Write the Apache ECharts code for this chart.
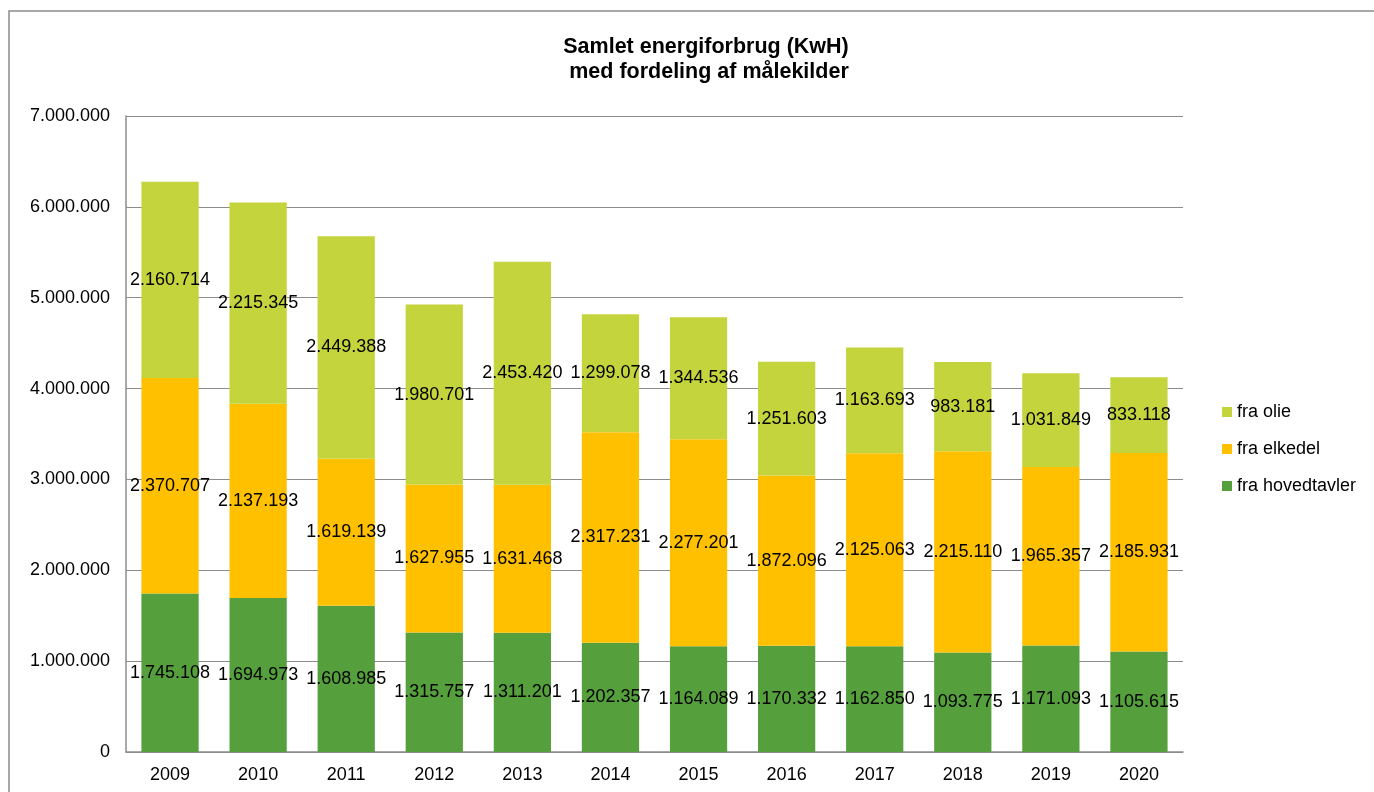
<!DOCTYPE html>
<html>
<head>
<meta charset="utf-8">
<script src="https://cdn.jsdelivr.net/npm/echarts@6/dist/echarts.min.js"></script>
<style>
  html, body { margin: 0; padding: 0; background: #fff; }
  #chart { width: 1374px; height: 792px; }
</style>
</head>
<body>
<div id="chart"></div>
<script>
var years = ['2009','2010','2011','2012','2013','2014','2015','2016','2017','2018','2019','2020'];
var hovedtavler = [1745108,1694973,1608985,1315757,1311201,1202357,1164089,1170332,1162850,1093775,1171093,1105615];
var elkedel = [2370707,2137193,1619139,1627955,1631468,2317231,2277201,1872096,2125063,2215110,1965357,2185931];
var olie = [2160714,2215345,2449388,1980701,2453420,1299078,1344536,1251603,1163693,983181,1031849,833118];

// tal med punktum som tusindtalsseparator
function fmt(v) {
    return String(v).replace(/\B(?=(\d{3})+(?!\d))/g, '.');
}

var font = 'Liberation Sans, Arial, sans-serif';

function serie(name, data, color) {
    return {
        name: name,
        type: 'bar',
        stack: 'total',
        barWidth: '65%',
        data: data,
        itemStyle: { color: color },
        label: {
            show: true,
            position: 'inside',
            color: '#000',
            fontSize: 18,
            fontFamily: font,
            formatter: function (p) { return fmt(p.value); }
        }
    };
}

var myChart = echarts.init(document.getElementById('chart'));
var option = {
    backgroundColor: '#fff',
    animation: false,
    title: {
        text: 'Samlet energiforbrug (KwH)\n med fordeling af målekilder',
        left: 701,
        textAlign: 'center',
        top: 30,
        textStyle: { fontFamily: font, fontSize: 21.5, fontWeight: 'bold', color: '#000', lineHeight: 25 }
    },
    graphic: [{
        type: 'rect',
        shape: { x: 9, y: 11, width: 1400, height: 800 },
        style: { fill: 'none', stroke: '#8c8c8c', lineWidth: 1.5 }
    }],
    legend: {
        data: ['fra olie', 'fra elkedel', 'fra hovedtavler'],
        orient: 'vertical',
        left: 1217,
        top: 398,
        itemWidth: 10,
        itemHeight: 10,
        itemGap: 19,
        icon: 'rect',
        textStyle: { fontFamily: font, fontSize: 18, color: '#000' }
    },
    grid: { left: 126, right: 191, top: 116, bottom: 40, containLabel: false },
    xAxis: {
        type: 'category',
        data: years,
        axisLine: { lineStyle: { color: '#8c8c8c', width: 1.5 } },
        axisTick: { show: false },
        axisLabel: { color: '#000', fontSize: 18, fontFamily: font, margin: 14 }
    },
    yAxis: {
        type: 'value',
        min: 0,
        max: 7000000,
        interval: 1000000,
        axisLine: { show: true, lineStyle: { color: '#8c8c8c', width: 1.5 } },
        axisTick: { show: false },
        splitLine: { lineStyle: { color: '#8c8c8c', width: 1.2 } },
        axisLabel: { color: '#000', fontSize: 18, fontFamily: font, margin: 16, formatter: fmt }
    },
    series: [
        serie('fra hovedtavler', hovedtavler, '#55A03C'),
        serie('fra elkedel', elkedel, '#FFC000'),
        serie('fra olie', olie, '#C4D43C')
    ]
};
myChart.setOption(option);
</script>
</body>
</html>
